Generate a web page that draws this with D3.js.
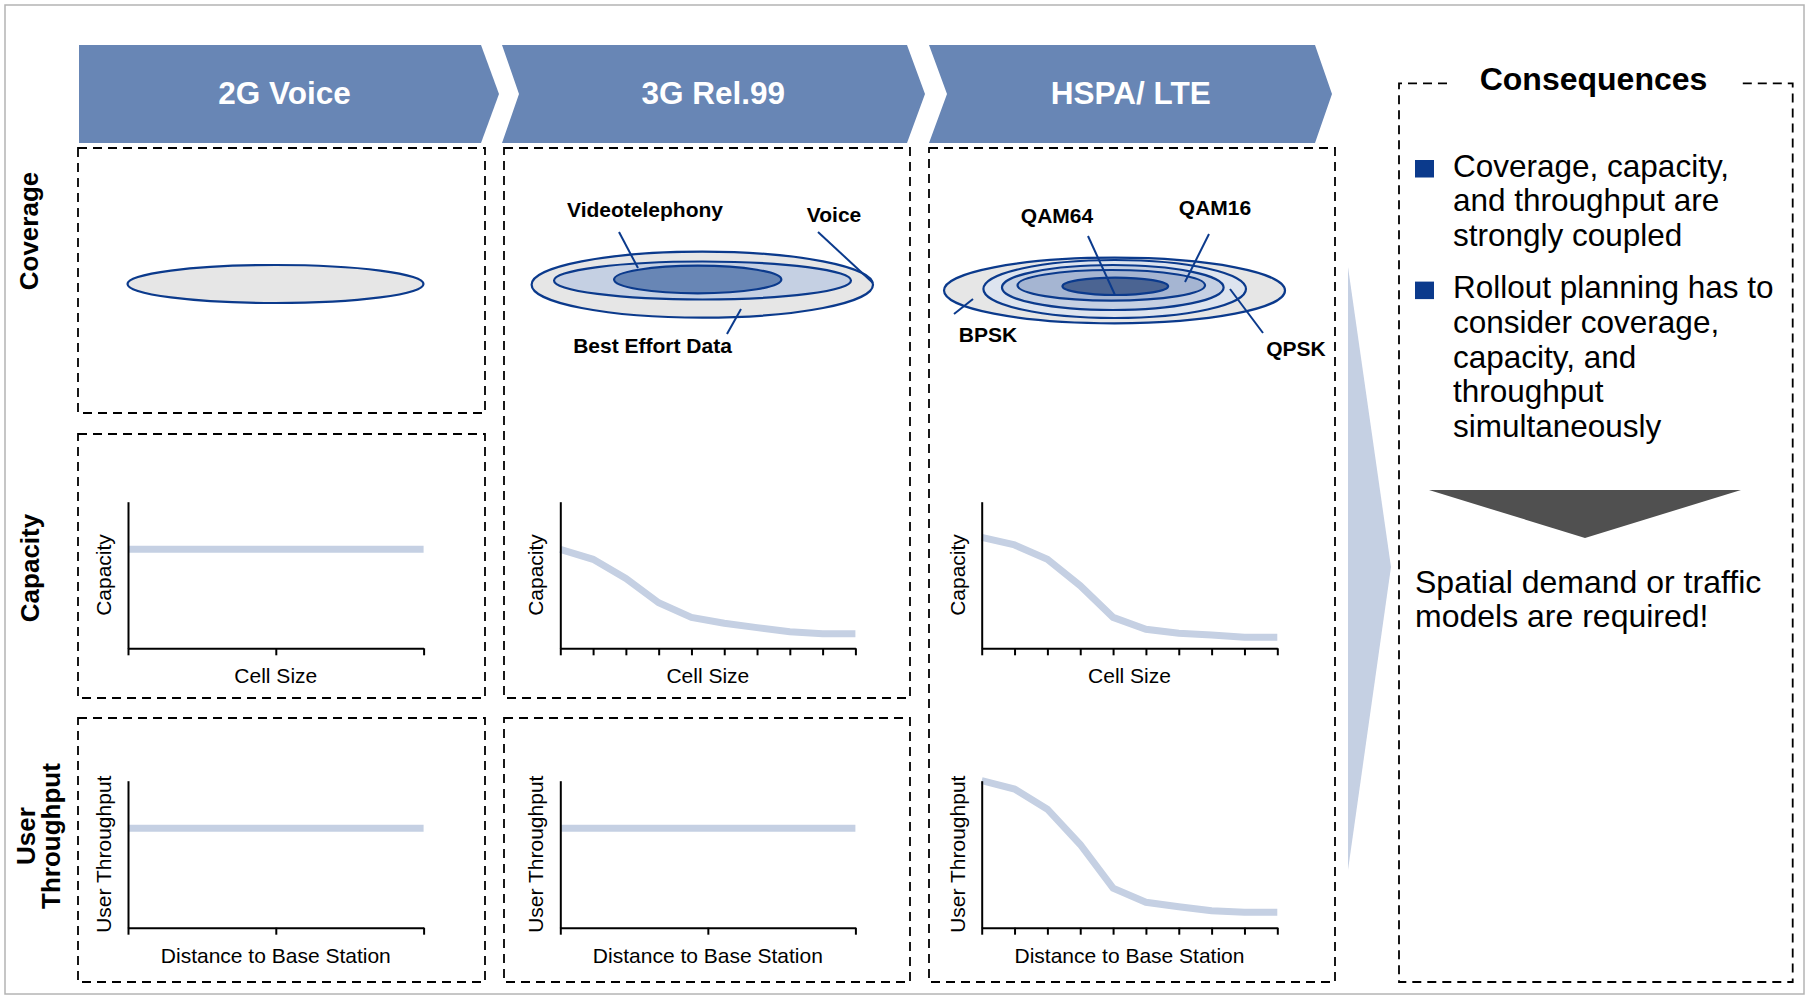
<!DOCTYPE html>
<html>
<head>
<meta charset="utf-8">
<script src="https://cdn.jsdelivr.net/npm/d3@7"></script>
<style>
  body { margin: 0; background: #fff; }
  svg { display: block; font-family: "Liberation Sans", Arial, sans-serif; }
</style>
</head>
<body>
<div id="chart"></div>
<script>
// technologies (columns) and aspects (rows)
var techs = ["2G Voice", "3G Rel.99", "HSPA/ LTE"];
var aspects = ["Coverage", "Capacity", "User Throughput"];

// capacity vs cell size (0 = axis, 100 = top of axis)
var cap2G = [67.5, 67.5, 67.5];
var cap3G = [67.5, 60.7, 47.7, 31.1, 21.1, 17.1, 14.1, 11.3, 10.0, 10.0];
var capHSPA = [75.7, 70.5, 60.7, 42.7, 21.1, 13.0, 10.2, 9.1, 7.6, 7.6];

// user throughput vs distance to base station
var thr2G = [67.6, 67.6, 67.6];
var thr3G = [67.6, 67.6, 67.6];
var thrHSPA = [100, 94.3, 80.6, 56.6, 26.9, 17.3, 14.2, 11.5, 10.5, 10.5];

// coverage rings (relative radius, outermost = 1)
var rings2G = [1.0];
var rings3G = [1.0, 0.87, 0.49];
var ringsHSPA = [1.0, 0.77, 0.65, 0.55, 0.31];

var ringLabels3G = ["Videotelephony", "Voice", "Best Effort Data"];
var ringLabelsHSPA = ["QAM64", "QAM16", "BPSK", "QPSK"];

var bullets = [
    ["Coverage, capacity,", "and throughput are", "strongly coupled"],
    ["Rollout planning has to", "consider coverage,", "capacity, and", "throughput", "simultaneously"]
];
var conclusion = ["Spatial demand or traffic", "models are required!"];

var W = 1808, H = 997;
var chevBlue = "#6886b5", lineBlue = "#c5d0e3", navy = "#0b3a8c";

var svg = d3.select("#chart").append("svg")
    .attr("width", W)
    .attr("height", H);

// outer frame
svg.append("rect")
    .attr("x", 5).attr("y", 5)
    .attr("width", 1799).attr("height", 989)
    .attr("fill", "none")
    .attr("stroke", "#b4b4b4")
    .attr("stroke-width", 1.5);

// header chevrons
var chev = [
    {left: 79, notch: 0, right: 481, tip: 499},
    {left: 502, notch: 17, right: 907, tip: 925},
    {left: 929, notch: 18, right: 1315, tip: 1332}
];
var chTop = 45, chBot = 143, chMid = 94;

chev.forEach(function (c, i) {
    var pts = [[c.left, chTop], [c.right, chTop], [c.tip, chMid], [c.right, chBot],
        [c.left, chBot], [c.left + c.notch, chMid]];
    svg.append("path")
        .attr("d", d3.line()(pts) + "Z")
        .attr("fill", chevBlue);
    svg.append("text")
        .attr("x", (2 * c.left + c.notch + c.right + c.tip) / 4)
        .attr("y", 104)
        .attr("text-anchor", "middle")
        .attr("font-size", "31.5px")
        .attr("font-weight", "bold")
        .attr("fill", "white")
        .text(techs[i]);
});

// row labels
function rowLabel(lines, cy, bx) {
    var t = svg.append("text")
        .attr("transform", "translate(0," + cy + ") rotate(-90)")
        .attr("text-anchor", "middle")
        .attr("font-size", "26px")
        .attr("font-weight", "bold");
    lines.forEach(function (l, i) {
        t.append("tspan").attr("x", 0).attr("y", bx[i]).text(l);
    });
}
rowLabel([aspects[0]], 231, [38]);
rowLabel([aspects[1]], 568, [39]);
rowLabel(["User", "Throughput"], 836, [35, 60]);

// dashed panels
function dashBox(x0, y0, x1, y1) {
    svg.append("rect")
        .attr("x", x0).attr("y", y0)
        .attr("width", x1 - x0).attr("height", y1 - y0)
        .attr("fill", "none")
        .attr("stroke", "#000")
        .attr("stroke-width", 1.8)
        .attr("stroke-dasharray", "9,6");
}
dashBox(78, 148, 485, 413);
dashBox(78, 434, 485, 698);
dashBox(78, 718, 485, 982);
dashBox(504, 148, 910, 698);
dashBox(504, 718, 910, 982);
dashBox(929, 148, 1335, 982);

// coverage ellipses
function rings(cx, cy, outerRx, radii, ryList, dxList, dyList, fills) {
    var r = d3.scaleLinear().domain([0, 1]).range([0, outerRx]);
    var g = svg.append("g");
    g.selectAll("ellipse")
        .data(radii)
        .enter()
        .append("ellipse")
        .attr("cx", function (d, i) { return cx + dxList[i]; })
        .attr("cy", function (d, i) { return cy + dyList[i]; })
        .attr("rx", function (d) { return r(d); })
        .attr("ry", function (d, i) { return ryList[i]; })
        .attr("fill", function (d, i) { return fills[i]; })
        .attr("stroke", navy)
        .attr("stroke-width", 2.2);
}
rings(275.5, 284, 148, rings2G, [19], [0], [0], ["#e6e6e6"]);
rings(702.3, 284.7, 170.7, rings3G, [33, 19, 13.8], [0, 0.2, -4.6], [0, -4.2, -5.2],
    ["#e6e6e6", lineBlue, chevBlue]);
rings(1114.5, 290.5, 170.5, ringsHSPA, [32.8, 29, 22.5, 15.3, 8.7], [0, 0.2, -1.7, -3.2, 0.8],
    [0, -1.5, -3, -5.2, -4.2], ["#e6e6e6", "#dde4ef", lineBlue, "#a5b5d2", "#4b6492"]);

// ring labels with leader lines
function label(txt, x, y, x1, y1, x2, y2) {
    svg.append("line")
        .attr("x1", x1).attr("y1", y1).attr("x2", x2).attr("y2", y2)
        .attr("stroke", navy).attr("stroke-width", 2);
    svg.append("text")
        .attr("x", x).attr("y", y)
        .attr("text-anchor", "middle")
        .attr("font-size", "21px")
        .attr("font-weight", "bold")
        .text(txt);
}
label(ringLabels3G[0], 645, 217, 619, 232, 638, 268);
label(ringLabels3G[1], 834, 222, 818, 232, 873, 283);
label(ringLabels3G[2], 652.5, 353, 741, 309, 727, 334);
label(ringLabelsHSPA[0], 1057, 223, 1088, 236, 1115, 295);
label(ringLabelsHSPA[1], 1215, 215, 1209, 234, 1185, 282);
label(ringLabelsHSPA[2], 988, 342, 973, 299, 954, 314);
label(ringLabelsHSPA[3], 1296, 356, 1230, 289, 1263, 333);

// small line charts
function miniChart(values, x0, x1, top, bottom, yLabel, xLabel) {
    var x = d3.scaleLinear().domain([0, values.length - 1]).range([x0, x1]);
    var y = d3.scaleLinear().domain([0, 100]).range([bottom, top]);
    var g = svg.append("g");

    g.append("path")
        .datum(values)
        .attr("fill", "none")
        .attr("stroke", lineBlue)
        .attr("stroke-width", 7)
        .attr("d", d3.line()
            .x(function (d, i) { return x(i); })
            .y(function (d) { return y(d); }));

    var xa = g.append("g")
        .attr("transform", "translate(0," + bottom + ")")
        .call(d3.axisBottom(x).tickValues(d3.range(values.length))
            .tickSize(7).tickSizeOuter(0).tickFormat(""));
    var ya = g.append("g")
        .attr("transform", "translate(" + x0 + ",0)")
        .call(d3.axisLeft(y).tickValues([]).tickSizeOuter(0));
    [xa, ya].forEach(function (a) {
        a.selectAll("path,line").attr("stroke", "#000").attr("stroke-width", 2);
    });

    g.append("text")
        .attr("transform", "translate(" + (x0 - 17) + "," + ((top + bottom) / 2) + ") rotate(-90)")
        .attr("text-anchor", "middle")
        .attr("font-size", "21px")
        .text(yLabel);
    g.append("text")
        .attr("x", (x0 + x1) / 2)
        .attr("y", bottom + 35)
        .attr("text-anchor", "middle")
        .attr("font-size", "21px")
        .text(xLabel);
}
var colX = [[128, 423.6], [560.3, 855.4], [981.7, 1277.3]];
miniChart(cap2G, colX[0][0], colX[0][1], 501.7, 648.3, "Capacity", "Cell Size");
miniChart(cap3G, colX[1][0], colX[1][1], 501.7, 648.3, "Capacity", "Cell Size");
miniChart(capHSPA, colX[2][0], colX[2][1], 501.7, 648.3, "Capacity", "Cell Size");
miniChart(thr2G, colX[0][0], colX[0][1], 780.7, 927.7, "User Throughput", "Distance to Base Station");
miniChart(thr3G, colX[1][0], colX[1][1], 780.7, 927.7, "User Throughput", "Distance to Base Station");
miniChart(thrHSPA, colX[2][0], colX[2][1], 780.7, 927.7, "User Throughput", "Distance to Base Station");

// big arrow towards consequences
svg.append("path")
    .attr("d", d3.line()([[1348, 267], [1391, 567], [1348, 870]]) + "Z")
    .attr("fill", lineBlue);

// consequences box, open at the top for the title
svg.append("path")
    .attr("d", d3.line()([[1447, 83.3], [1399, 83.3], [1399, 982], [1792.7, 982], [1792.7, 83.3], [1739, 83.3]]))
    .attr("fill", "none")
    .attr("stroke", "#000")
    .attr("stroke-width", 1.8)
    .attr("stroke-dasharray", "9,6");

svg.append("text")
    .attr("x", 1593.5).attr("y", 90)
    .attr("text-anchor", "middle")
    .attr("font-size", "32px")
    .attr("font-weight", "bold")
    .text("Consequences");

var bulletTop = [176.7, 298.3], lineGap = 34.6;
bullets.forEach(function (lines, b) {
    svg.append("rect")
        .attr("x", 1415).attr("y", bulletTop[b] - 16.7)
        .attr("width", 19).attr("height", 17.5)
        .attr("fill", navy);
    var t = svg.append("text").attr("font-size", "31.5px");
    lines.forEach(function (l, i) {
        t.append("tspan")
            .attr("x", 1453)
            .attr("y", bulletTop[b] + i * lineGap)
            .text(l);
    });
});

svg.append("path")
    .attr("d", d3.line()([[1429, 490], [1741, 490], [1585, 538]]) + "Z")
    .attr("fill", "#505050");

var ct = svg.append("text").attr("font-size", "32px");
conclusion.forEach(function (l, i) {
    ct.append("tspan").attr("x", 1415).attr("y", 593.3 + i * 33.4).text(l);
});
</script>
</body>
</html>
